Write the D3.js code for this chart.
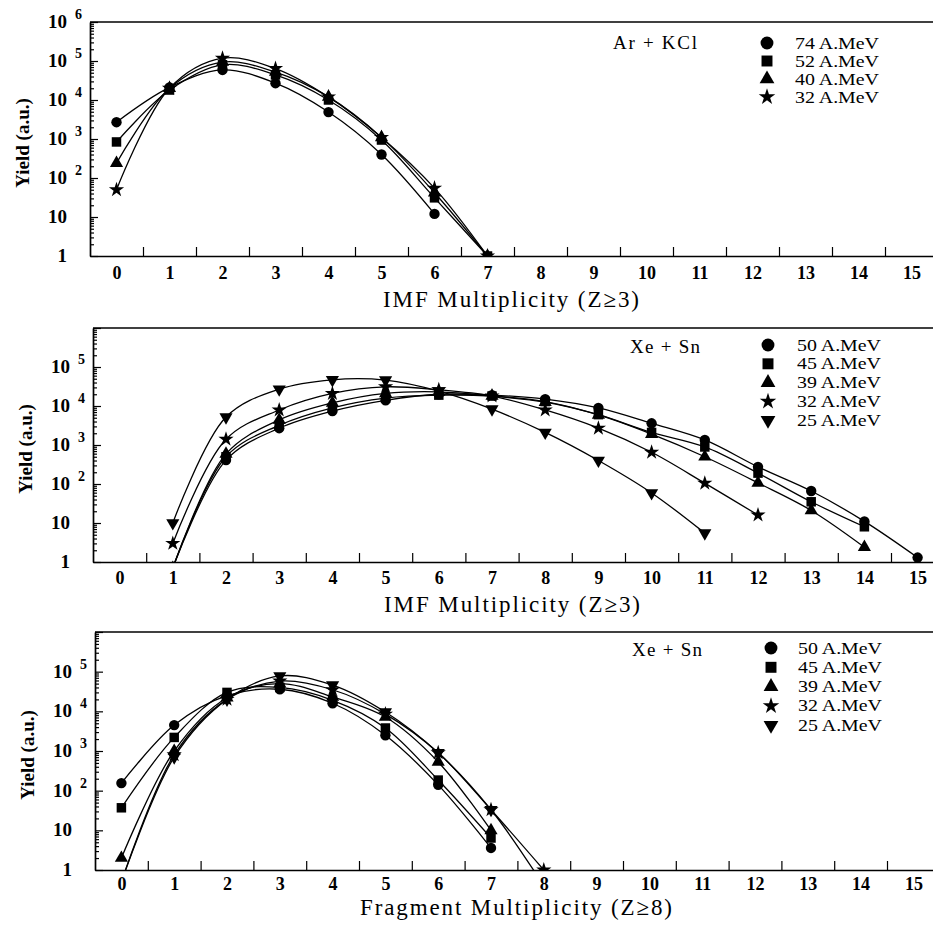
<!DOCTYPE html>
<html>
<head>
<meta charset="utf-8">
<script src="https://cdn.jsdelivr.net/npm/d3@7"></script>
<style>
  body { margin: 0; background: #fff; }
  svg { display: block; font-family: "Liberation Serif", "Times New Roman", serif; }
</style>
</head>
<body>
<svg id="chart" width="933" height="927"></svg>
<script>
// multiplicity values on the x axis
const mult = d3.range(0, 16);
const halfSteps = d3.range(0.5, 15, 1);

// top panel: Ar + KCl, IMF multiplicity (Z>=3)
const arLabels = ["74 A.MeV", "52 A.MeV", "40 A.MeV", "32 A.MeV"];
const ar74 = [2700, 21000, 59000, 27000, 4900, 400, 12];
const ar52 = [840, 18000, 80000, 44000, 10000, 940, 31, 1];
const ar40 = [240, 20000, 94000, 52000, 12000, 1100, 42, 1];
const ar32 = [50, 20000, 118000, 64000, 12000, 1100, 55, 1];

// middle panel: Xe + Sn, IMF multiplicity (Z>=3)
const xeLabels = ["50 A.MeV", "45 A.MeV", "39 A.MeV", "32 A.MeV", "25 A.MeV"];
const xe50imf = [null, 0.7, 410, 2700, 7400, 14000, 20000, 19000, 15000, 8900, 3600, 1350, 275, 66, 11, 1.3];
const xe45imf = [null, 0.7, 500, 3200, 9000, 16000, 19000, 18000, 13000, 6000, 2100, 890, 190, 35, 8];
const xe39imf = [null, 0.7, 590, 4400, 12000, 21000, 23000, 18000, 12500, 5900, 1900, 500, 107, 21, 2.4];
const xe32imf = [null, 3, 1400, 7900, 21000, 31000, 26000, 18000, 7900, 2700, 650, 105, 16];
const xe25imf = [null, 10, 5200, 27000, 47000, 46000, 24000, 8300, 2100, 400, 59, 5.5];

// bottom panel: Xe + Sn, fragment multiplicity (Z>=8)
const xe50frag = [155, 4500, 25000, 36000, 16000, 2500, 140, 3.6];
const xe45frag = [37, 2200, 30000, 40000, 19000, 3800, 185, 6.4];
const xe39frag = [2, 1000, 22000, 50000, 23000, 7200, 530, 10];
const xe32frag = [0.5, 800, 20000, 58000, 35000, 8500, 900, 33, 1];
const xe25frag = [0.5, 700, 20000, 78000, 46000, 9600, 900, 33, 0.4];

const yExpFull = [0, 1, 2, 3, 4, 5, 6];
const yExpShort = [0, 1, 2, 3, 4, 5];

const shapes = {
  circle: d3.symbolCircle,
  square: d3.symbolSquare,
  triangle: d3.symbolTriangle,
  star: d3.symbolStar,
  down: d3.symbolTriangle
};
const markerSize = { circle: 85, square: 90, triangle: 75, star: 72, down: 75 };
const legendSize = { circle: 130, square: 120, triangle: 95, star: 85, down: 95 };
const arShapes = ["circle", "square", "triangle", "star"];
const xeShapes = ["circle", "square", "triangle", "star", "down"];

const panels = [
  {
    top: 22, bottom: 256, left: 90, step: 53, yExp: yExpFull,
    series: [ar74, ar52, ar40, ar32], labels: arLabels, shapes: arShapes,
    title: "Ar + KCl", titleX: 613, titleY: 49,
    legX: 767, legTextX: 795, legY: 43, legStep: 18,
    xTitle: "IMF Multiplicity (Z\u22653)", xTitleX: 511, xTitleY: 307, xTitleLen: 256,
    xLabDy: 23
  },
  {
    top: 328, bottom: 562, left: 93, step: 53.2, yExp: yExpShort,
    series: [xe50imf, xe45imf, xe39imf, xe32imf, xe25imf], labels: xeLabels, shapes: xeShapes,
    title: "Xe + Sn", titleX: 630, titleY: 353,
    legX: 768, legTextX: 797, legY: 345, legStep: 18.8,
    xTitle: "IMF Multiplicity (Z\u22653)", xTitleX: 512, xTitleY: 612, xTitleLen: 256,
    xLabDy: 22
  },
  {
    top: 632, bottom: 870, left: 95, step: 52.8, yExp: yExpShort,
    series: [xe50frag, xe45frag, xe39frag, xe32frag, xe25frag], labels: xeLabels, shapes: xeShapes,
    title: "Xe + Sn", titleX: 632, titleY: 656,
    legX: 771, legTextX: 798, legY: 648, legStep: 19.3,
    xTitle: "Fragment Multiplicity (Z\u22658)", xTitleX: 516, xTitleY: 915, xTitleLen: 312,
    xLabDy: 20
  }
];

const svg = d3.select("#chart");
const W = 933;

function symbolPath(name, size) {
  return d3.symbol().type(shapes[name]).size(size)();
}

panels.forEach((p, i) => {
  const x = d3.scaleLinear().domain([-0.5, 15.5]).range([p.left, p.left + 16 * p.step]);
  const y = d3.scaleLog().domain([1, 1e6]).range([p.bottom, p.top]);
  const g = svg.append("g");

  const clipId = "clip" + i;
  g.append("clipPath").attr("id", clipId)
    .append("rect")
    .attr("x", p.left).attr("y", p.top)
    .attr("width", W - p.left).attr("height", p.bottom - p.top);

  // top frame line
  g.append("line")
    .attr("x1", p.left).attr("x2", W)
    .attr("y1", p.top).attr("y2", p.top)
    .attr("stroke", "#000").attr("stroke-width", 1.7);

  // y axis: major ticks at decades, minor at 2..9
  const decades = d3.range(0, 7).map(e => Math.pow(10, e));
  const minors = [];
  for (let e = 0; e < 6; e++) for (let k = 2; k < 10; k++) minors.push(k * Math.pow(10, e));

  const yMajor = g.append("g").attr("transform", `translate(${p.left},0)`)
    .call(d3.axisLeft(y).tickValues(decades).tickSizeInner(-8).tickSizeOuter(0).tickFormat(""));
  const yMinor = g.append("g").attr("transform", `translate(${p.left},0)`)
    .call(d3.axisLeft(y).tickValues(minors).tickSizeInner(-4).tickSizeOuter(0).tickFormat(""));
  yMinor.select(".domain").remove();
  [yMajor, yMinor].forEach(a => {
    a.selectAll("line").attr("stroke", "#000").attr("stroke-width", 1.2);
    a.select(".domain").attr("stroke", "#000").attr("stroke-width", 1.7);
  });

  // y tick labels with superscript exponents
  const yl = g.append("g").attr("font-weight", "bold").attr("fill", "#000");
  p.yExp.forEach(e => {
    const yy = y(Math.pow(10, e));
    yl.append("text")
      .attr("x", p.left - 23).attr("y", yy + 6)
      .attr("text-anchor", "end").attr("font-size", 19)
      .text(e === 0 ? "1" : "10");
    if (e > 1) {
      yl.append("text")
        .attr("x", p.left - 15).attr("y", yy - 3)
        .attr("font-size", 14)
        .text(e);
    }
  });

  // y title
  g.append("text")
    .attr("transform", `translate(${p.left - 61},${(p.top + p.bottom) / 2 + 4}) rotate(-90)`)
    .attr("text-anchor", "middle").attr("font-weight", "bold").attr("font-size", 19)
    .text("Yield (a.u.)");

  // x axis: ticks at half steps pointing up, labels at integers
  const xAxis = g.append("g").attr("transform", `translate(0,${p.bottom})`)
    .call(d3.axisBottom(x).tickValues(halfSteps).tickSizeInner(-9).tickSizeOuter(0).tickFormat(""));
  xAxis.selectAll("line").attr("stroke", "#000").attr("stroke-width", 1.2);
  xAxis.select(".domain").attr("stroke", "#000").attr("stroke-width", 1.7);

  const xLab = g.append("g").attr("transform", `translate(0,${p.bottom})`)
    .call(d3.axisBottom(x).tickValues(mult).tickSize(0).tickPadding(0).tickFormat(d3.format("d")));
  xLab.select(".domain").remove();
  xLab.selectAll("text")
    .attr("dy", null).attr("y", p.xLabDy)
    .attr("font-family", "Liberation Serif, Times New Roman, serif")
    .attr("font-size", 18).attr("font-weight", "bold").attr("fill", "#000");

  // x title
  g.append("text")
    .attr("x", p.xTitleX).attr("y", p.xTitleY)
    .attr("text-anchor", "middle").attr("font-size", 23)
    .attr("textLength", p.xTitleLen).attr("lengthAdjust", "spacing")
    .text(p.xTitle);

  // curves and markers
  const plot = g.append("g").attr("clip-path", `url(#${clipId})`);
  const line = d3.line()
    .x(d => x(d[0]))
    .y(d => y(d[1]))
    .curve(d3.curveCatmullRom.alpha(0.5));

  p.series.forEach((vals, si) => {
    const pts = vals.map((v, k) => [k, v]).filter(d => d[1] != null);
    plot.append("path")
      .datum(pts)
      .attr("d", line)
      .attr("fill", "none").attr("stroke", "#000").attr("stroke-width", 1.3);
    const shape = p.shapes[si];
    plot.selectAll(null)
      .data(pts)
      .enter()
      .append("path")
      .attr("d", symbolPath(shape, markerSize[shape]))
      .attr("transform", d => `translate(${x(d[0])},${y(d[1])})` + (shape === "down" ? " rotate(180)" : ""))
      .attr("fill", "#000");
  });

  // reaction label
  g.append("text")
    .attr("x", p.titleX).attr("y", p.titleY)
    .attr("font-size", 19).attr("textLength", p.title.length > 7 ? 84 : 70)
    .attr("lengthAdjust", "spacing").text(p.title);

  // legend
  const leg = g.append("g");
  p.labels.forEach((lab, li) => {
    const ly = p.legY + li * p.legStep;
    const shape = p.shapes[li];
    leg.append("path")
      .attr("d", symbolPath(shape, legendSize[shape]))
      .attr("transform", `translate(${p.legX},${ly})` + (shape === "down" ? " rotate(180)" : ""))
      .attr("fill", "#000");
    leg.append("text")
      .attr("x", p.legTextX).attr("y", ly + 5.5)
      .attr("font-size", 16).attr("textLength", 84).attr("lengthAdjust", "spacingAndGlyphs")
      .text(lab);
  });
});
</script>
</body>
</html>
